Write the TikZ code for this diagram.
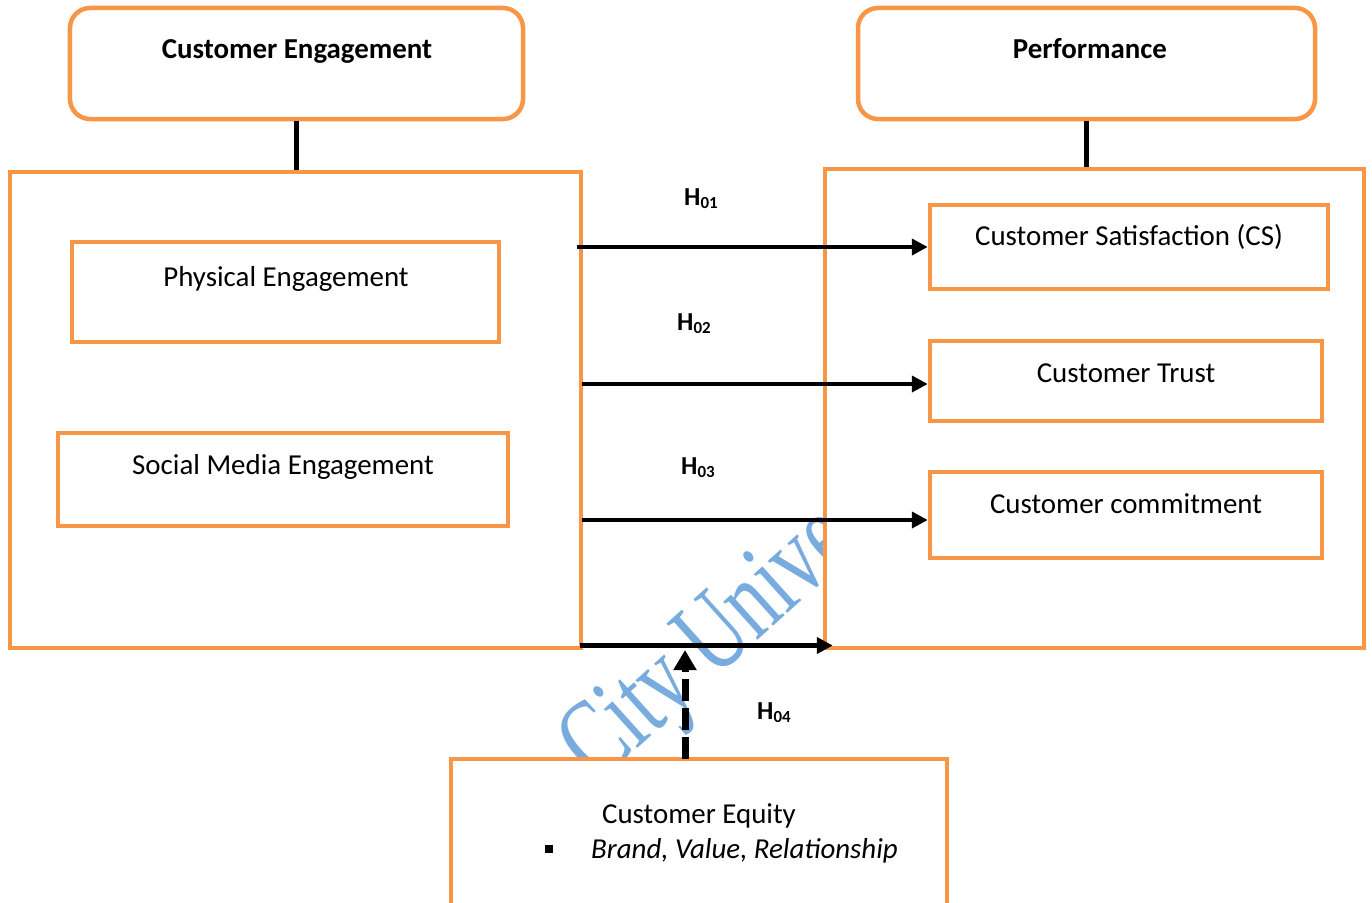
\documentclass[tikz,border=0pt]{standalone}
\usepackage{fontspec}
\setmainfont{Carlito}
\newfontfamily\wmfont{Liberation Serif}
\usetikzlibrary{arrows.meta,calc}
\definecolor{boxorange}{RGB}{247,150,70}
\definecolor{wmblue}{RGB}{120,172,222}
\tikzset{
  frame/.style={draw=boxorange, line width=4.5bp, fill=white, inner sep=0pt},
  roundframe/.style={frame, rounded corners=20bp},
  lbl/.style={anchor=base, inner sep=0pt, font=\fontsize{29}{34}\selectfont},
  blbl/.style={anchor=base, inner sep=0pt, font=\bfseries\fontsize{29}{34}\selectfont},
  hyp/.style={anchor=base west, inner sep=0pt, font=\bfseries\fontsize{26}{30}\selectfont},
  link/.style={line width=5bp, black},
  arr/.style={line width=4.5bp, black, -{Triangle[length=16bp,width=16bp]}},
  dasharr/.style={line width=7bp, black, dash pattern=on 22bp off 7bp, -{Triangle[length=20bp,width=22bp]}},
  watermark/.style={transform shape, rotate=42, yscale=1.4, anchor=base west, inner sep=0pt,
    text=wmblue, font=\wmfont\fontsize{80}{80}\selectfont},
}
\newcommand{\hypname}[1]{H\raisebox{-3bp}{\fontsize{17}{17}\selectfont #1}}
\begin{document}
\begin{tikzpicture}[x=1bp,y=-1bp]
\useasboundingbox (0,0) rectangle (1372,902);
\clip (0,0) rectangle (1372,902);
\fill[white] (0,0) rectangle (1372,902);

% watermark, partly hidden behind the filled boxes
\node[watermark] (wm) at (597,785) {City University};

% left column
\node[roundframe, minimum width=453bp, minimum height=111bp] (ce) at (296.5,63.5) {};
\node[blbl] (ce-t) at (297,58) {Customer Engagement};
\node[frame, minimum width=571bp, minimum height=476bp] (L) at (295.5,410) {};
\node[frame, minimum width=427bp, minimum height=100bp] (pe) at (285.5,292) {};
\node[lbl] (pe-t) at (286,286) {Physical Engagement};
\node[frame, minimum width=450bp, minimum height=93bp] (sme) at (283,479.5) {};
\node[lbl] (sme-t) at (283,474) {Social Media Engagement};

% right column
\node[roundframe, minimum width=457bp, minimum height=111bp] (pf) at (1086.5,63.5) {};
\node[blbl] (pf-t) at (1090,58) {Performance};
\node[frame, minimum width=539bp, minimum height=479bp] (R) at (1094.5,408.5) {};
\node[frame, minimum width=398bp, minimum height=84bp] (cs) at (1129,247) {};
\node[lbl] (cs-t) at (1129,245) {Customer Satisfaction (CS)};
\node[frame, minimum width=392bp, minimum height=80bp] (tr) at (1126,381) {};
\node[lbl] (tr-t) at (1126,382) {Customer Trust};
\node[frame, minimum width=392bp, minimum height=86bp] (cm) at (1126,515) {};
\node[lbl] (cm-t) at (1126,513) {Customer commitment};

% moderator
\node[frame, minimum width=496bp, minimum height=160bp] (ceq) at (699,839) {};
\node[lbl] (ceq-t) at (699,823) {Customer Equity};
\node[inner sep=0pt] (bul) at (549,848.5) {\rule{8bp}{8bp}};
\node[lbl, anchor=base west, font=\itshape\fontsize{29}{34}\selectfont] (ceq-d) at (591,858) {Brand, Value, Relationship};

% headers to their groups
\draw[link] (ce.south) -- (ce.south |- L.north);
\draw[link] (pf.south) -- (pf.south |- R.north);

% hypothesis arrows
\coordinate (s1) at (577,247);
\coordinate (s2) at (582,384);
\coordinate (s3) at (582,520);
\coordinate (s4) at (580,645.5);
\draw[arr] (s1) -- (s1 -| cs.west);
\draw[arr] (s2) -- (s2 -| tr.west);
\draw[arr] (s3) -- (s3 -| cm.west);
\draw[arr] (s4) -- ([xshift=10bp]s4 -| R.west);

\coordinate (d0) at (685,759);
\coordinate (d1) at (685,650);
\draw[dasharr] (d0) -- (d1);

\node[hyp] (h1) at (684,205) {\hypname{01}};
\node[hyp] (h2) at (677,330) {\hypname{02}};
\node[hyp] (h3) at (681,474) {\hypname{03}};
\node[hyp] (h4) at (757,719) {\hypname{04}};
\end{tikzpicture}
\end{document}
